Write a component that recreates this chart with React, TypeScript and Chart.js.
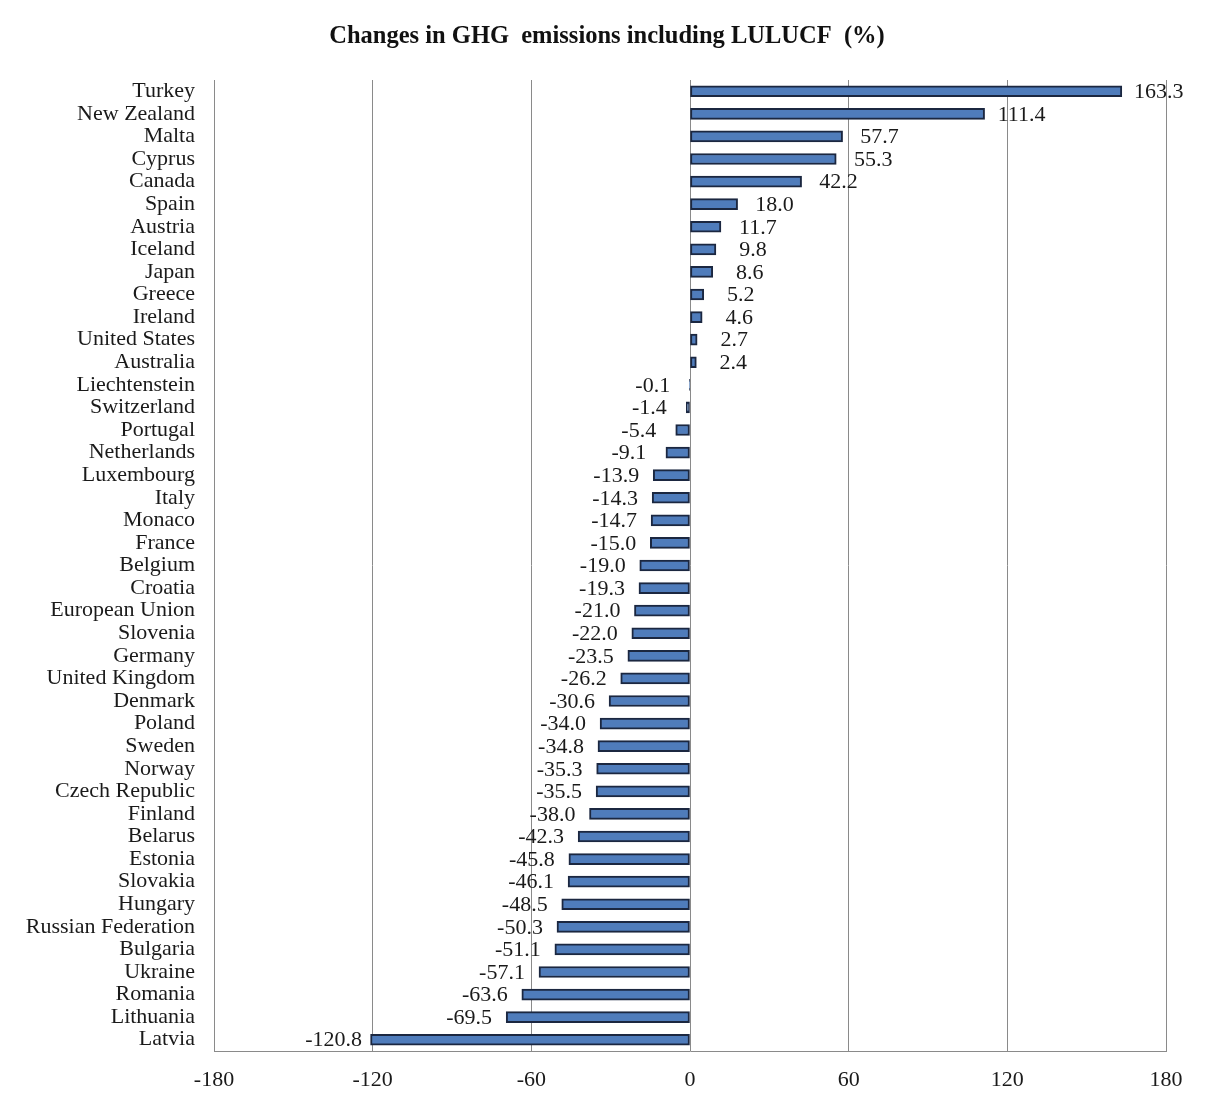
import React, { useEffect, useRef } from "react";
import { Chart, registerables } from "chart.js";

Chart.register(...registerables);

const titleText = "Changes in GHG  emissions including LULUCF  (%)";

const categories = [
  "Turkey", "New Zealand", "Malta", "Cyprus", "Canada", "Spain", "Austria", "Iceland",
  "Japan", "Greece", "Ireland", "United States", "Australia", "Liechtenstein", "Switzerland",
  "Portugal", "Netherlands", "Luxembourg", "Italy", "Monaco", "France", "Belgium", "Croatia",
  "European Union", "Slovenia", "Germany", "United Kingdom", "Denmark", "Poland", "Sweden",
  "Norway", "Czech Republic", "Finland", "Belarus", "Estonia", "Slovakia", "Hungary",
  "Russian Federation", "Bulgaria", "Ukraine", "Romania", "Lithuania", "Latvia",
];

const values = [
  163.3, 111.4, 57.7, 55.3, 42.2, 18.0, 11.7, 9.8,
  8.6, 5.2, 4.6, 2.7, 2.4, -0.1, -1.4,
  -5.4, -9.1, -13.9, -14.3, -14.7, -15.0, -19.0, -19.3,
  -21.0, -22.0, -23.5, -26.2, -30.6, -34.0, -34.8,
  -35.3, -35.5, -38.0, -42.3, -45.8, -46.1, -48.5,
  -50.3, -51.1, -57.1, -63.6, -69.5, -120.8,
];

const xMin = -180;
const xMax = 180;
const xStep = 60;

const SERIF = "'Liberation Serif', 'Times New Roman', 'DejaVu Serif', serif";

const valueLabels = {
  id: "valueLabels",
  afterDatasetsDraw(chart: any) {
    const meta = chart.getDatasetMeta(0);
    const ctx = chart.ctx;
    ctx.save();
    ctx.font = `22px ${SERIF}`;
    ctx.fillStyle = "#1a1a1a";
    ctx.textAlign = "center";
    ctx.textBaseline = "middle";
    meta.data.forEach((bar: any, i: number) => {
      const v = values[i];
      const x = bar.x + (v >= 0 ? 37 : -37);
      ctx.fillText(v.toFixed(1), x, bar.y + 1);
    });
    ctx.restore();
  },
};

const centeredTitle = {
  id: "centeredTitle",
  afterDraw(chart: any) {
    const ctx = chart.ctx;
    ctx.save();
    ctx.font = `bold 24.5px ${SERIF}`;
    ctx.fillStyle = "#111";
    ctx.textAlign = "center";
    ctx.textBaseline = "middle";
    ctx.fillText(titleText, 607, 37);
    ctx.restore();
  },
};

export default function App() {
  const ref = useRef<HTMLCanvasElement | null>(null);

  useEffect(() => {
    if (!ref.current) return;
    const chart = new Chart(ref.current, {
      type: "bar",
      data: {
        labels: categories,
        datasets: [
          {
            data: values,
            backgroundColor: "#4f7cbb",
            borderColor: "#1b2740",
            borderWidth: 2,
            borderSkipped: false,
            barThickness: 11,
          },
        ],
      },
      options: {
        indexAxis: "y",
        animation: false,
        responsive: true,
        maintainAspectRatio: false,
        layout: { padding: { left: 0, right: 42, top: 80, bottom: 0 } },
        plugins: {
          legend: { display: false },
          tooltip: { enabled: false },
          title: { display: false },
        },
        scales: {
          x: {
            type: "linear",
            min: xMin,
            max: xMax,
            ticks: {
              stepSize: xStep,
              color: "#1a1a1a",
              font: { family: SERIF, size: 22 },
              padding: 16,
            },
            grid: { color: "#8a8a8a", lineWidth: 1, drawTicks: false },
            border: { display: true, color: "#8a8a8a", width: 1 },
            afterFit: (scale: any) => {
              scale.height = 53;
            },
          },
          y: {
            type: "category",
            ticks: {
              autoSkip: false,
              color: "#1a1a1a",
              font: { family: SERIF, size: 22 },
              padding: 19,
            },
            grid: { display: false, drawTicks: false },
            border: { display: true, color: "#8a8a8a", width: 1 },
            afterFit: (scale: any) => {
              scale.width = 214;
            },
          },
        },
      },
      plugins: [valueLabels, centeredTitle],
    });
    return () => chart.destroy();
  }, []);

  return (
    <div style={{ position: "fixed", left: 0, top: 0, width: 1208, height: 1104, background: "#fff" }}>
      <canvas ref={ref} />
    </div>
  );
}
